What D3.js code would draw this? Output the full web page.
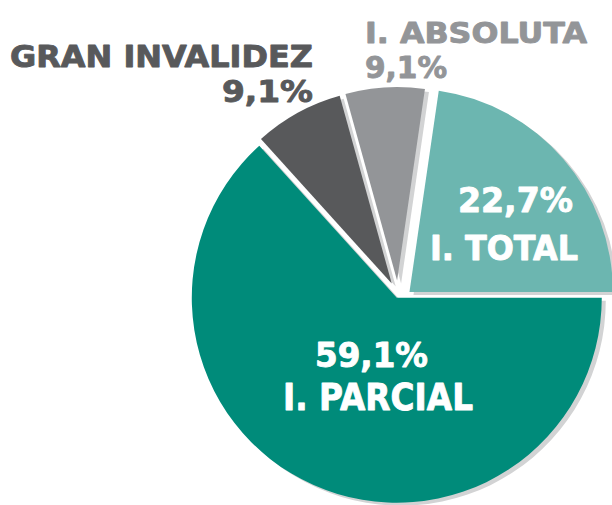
<!DOCTYPE html>
<html>
<head>
<meta charset="utf-8">
<script src="https://cdn.jsdelivr.net/npm/d3@7"></script>
<style>
  html, body { margin: 0; padding: 0; background: #fff; }
  svg { display: block; }
  text { font-family: "DejaVu Sans", Verdana, sans-serif; font-weight: bold; }
</style>
</head>
<body>
<svg id="chart" width="612" height="505"></svg>
<script>
// slice order follows the picture, clockwise from 3 o'clock
const categories = ["I. PARCIAL", "GRAN INVALIDEZ", "I. ABSOLUTA", "I. TOTAL"];
const pctLabels  = ["59,1%", "9,1%", "9,1%", "22,7%"];
// slice sizes as drawn in the picture (percent of the circle)
const sliceShares = [63.3, 7.4, 6.6, 22.7];
const sliceColors = ["#008b7a", "#58595b", "#939598", "#6cb6b0"];

const svg = d3.select("#chart");
const cx = 398, cy = 295, radius = 208;
const halfGap = 3;                       // white gap between slices
const extraShift = [[0, 0], [0, 0], [0, 0], [8, 0]];   // I. TOTAL pulled out

const pie = d3.pie()
  .sort(null)
  .value(d => d)
  .startAngle(Math.PI / 2)
  .endAngle(Math.PI / 2 + 2 * Math.PI);

const arcs = pie(sliceShares);

// move each wedge along its bisector so both edges sit halfGap away
// from the shared radius, and shrink it by the same amount
function pullOut(d) {
  const half = (d.endAngle - d.startAngle) / 2;
  return halfGap / Math.sin(Math.min(half, Math.PI / 2));
}

const arc = d3.arc()
  .innerRadius(0)
  .outerRadius(d => radius - pullOut(d));

function offset(d, i) {
  const mid = (d.startAngle + d.endAngle) / 2;
  const t = pullOut(d);
  return [Math.sin(mid) * t + extraShift[i][0], -Math.cos(mid) * t + extraShift[i][1]];
}

const defs = svg.append("defs");
defs.append("filter")
  .attr("id", "soft")
  .attr("x", "-10%").attr("y", "-10%")
  .attr("width", "120%").attr("height", "120%")
  .append("feGaussianBlur")
  .attr("stdDeviation", 0.7);

const g = svg.append("g").attr("transform", `translate(${cx},${cy})`);

// shadows under all slices
g.append("g")
  .selectAll("path")
  .data(arcs)
  .join("path")
  .attr("transform", (d, i) => {
    const [dx, dy] = offset(d, i);
    return `translate(${dx + 4},${dy + 3})`;
  })
  .attr("d", arc)
  .attr("fill", "#d2d3d4")
  .attr("filter", "url(#soft)");

g.append("g")
  .selectAll("path")
  .data(arcs)
  .join("path")
  .attr("transform", (d, i) => {
    const [dx, dy] = offset(d, i);
    return `translate(${dx},${dy})`;
  })
  .attr("d", arc)
  .attr("fill", (d, i) => sliceColors[i]);

// label layout: [left x, baseline y, width, font size] for name and value
const labelLayout = [
  { name: [283, 410, 190, 37], pct: [315, 367, 113, 33], color: "#ffffff" },
  { name: [10, 67, 303, 30],   pct: [222, 102, 91, 30],  color: "#58595b" },
  { name: [365, 43, 222, 29],  pct: [365, 78, 82, 30],   color: "#939598" },
  { name: [430, 260, 148, 34], pct: [458, 212, 115, 33], color: "#ffffff" }
];

const labels = svg.append("g");

function addText(str, spec, color) {
  labels.append("text")
    .attr("x", spec[0])
    .attr("y", spec[1])
    .attr("font-size", spec[3])
    .attr("textLength", spec[2])
    .attr("lengthAdjust", "spacingAndGlyphs")
    .attr("fill", color)
    .attr("stroke", color)
    .attr("stroke-width", 0.9)
    .attr("stroke-linejoin", "round")
    .text(str);
}

categories.forEach((c, i) => {
  const L = labelLayout[i];
  addText(c, L.name, L.color);
  addText(pctLabels[i], L.pct, L.color);
});
</script>
</body>
</html>
